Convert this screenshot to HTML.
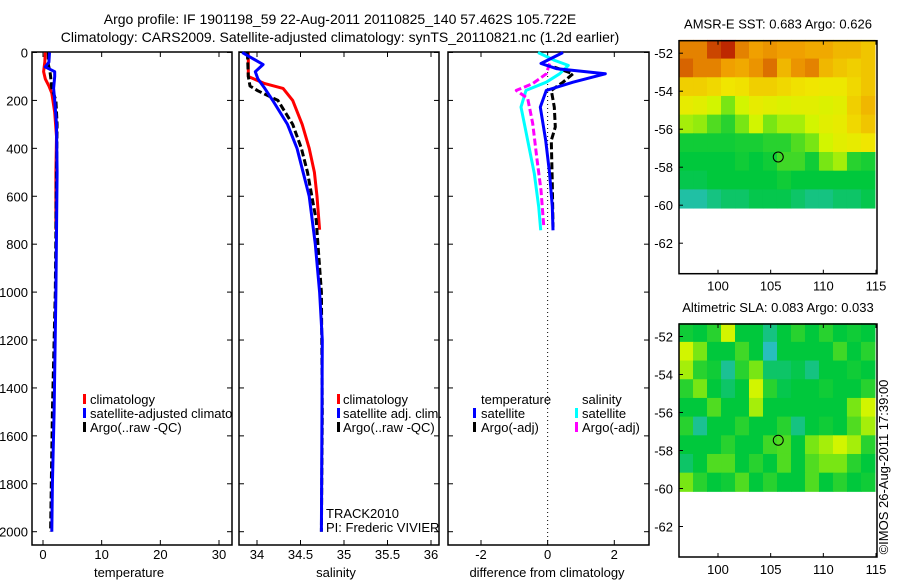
<!DOCTYPE html>
<html><head><meta charset="utf-8"><style>
html,body{margin:0;padding:0;background:#fff;}
svg{display:block;font-family:"Liberation Sans",sans-serif;}
text{font-size:13px;fill:#000;}
</style></head><body>
<svg id="fig" width="900" height="580" viewBox="0 0 900 580">
<defs><clipPath id="p1clip"><rect x="32" y="52" width="200" height="493"/></clipPath></defs>
<text x="340" y="24" text-anchor="middle" style="font-size:14px">Argo profile: IF 1901198_59 22-Aug-2011 20110825_140 57.462S 105.722E</text>
<text x="340" y="42" text-anchor="middle" style="font-size:14px">Climatology: CARS2009. Satellite-adjusted climatology: synTS_20110821.nc (1.2d earlier)</text>
<g id="plots"></g>
</svg>
<script>
// ---------- data ----------
const depthTicks = [0,200,400,600,800,1000,1200,1400,1600,1800,2000];
const tempTicks = [0,10,20,30];
const salTicks = [34,34.5,35,35.5,36];
const diffTicks = [-2,0,2];

const tempClimDepth = [0,40,80,110,140,170,250,350,500,740];
const tempClimVal   = [0.4,0.3,0.1,0.4,1.0,1.5,2.0,2.3,2.2,2.2];
const tempSatDepth  = [0,40,60,80,100,150,200,300,500,1000,1500,1800,2000];
const tempSatVal    = [1.1,1.0,0.4,2.0,2.0,1.8,2.0,2.3,2.4,2.2,1.9,1.6,1.5];
const tempArgoDepth = [0,50,80,100,150,200,300,500,1000,1500,2000];
const tempArgoVal   = [0.9,0.9,1.2,1.3,1.5,2.2,2.4,2.3,2.1,1.6,1.3];

const salClimDepth = [0,100,130,150,200,300,400,500,600,740];
const salClimVal   = [33.90,33.90,34.09,34.30,34.41,34.52,34.60,34.66,34.69,34.72];
const salSatDepth  = [0,50,80,110,150,200,300,400,500,600,800,1000,1200,2000];
const salSatVal    = [33.83,34.07,33.98,34.01,34.09,34.18,34.35,34.46,34.53,34.60,34.67,34.72,34.75,34.74];
const salArgoDepth = [0,100,140,160,200,300,400,500,700,1000,1500,2000];
const salArgoVal   = [33.89,33.90,33.92,34.01,34.24,34.41,34.51,34.58,34.68,34.74,34.75,34.74];

const dTempSatDepth  = [0,46,67,89,124,158,228,367,505,644,742];
const dTempSatVal    = [0.46,-0.2,0.26,1.73,0.76,-0.04,-0.22,-0.06,0.06,0.14,0.16];
const dTempArgoDepth = [61,89,124,158,228,311,367,547,730];
const dTempArgoVal   = [0.2,0.76,0.46,0.11,0.2,0.23,0.11,0.14,0.16];
const dSalSatDepth   = [0,33,54,89,124,158,228,367,505,644,742];
const dSalSatVal     = [-0.29,0.21,0.62,0.36,-0.04,-0.65,-0.8,-0.6,-0.4,-0.27,-0.21];
const dSalArgoDepth  = [46,89,130,158,192,296,436,575,721];
const dSalArgoVal    = [0.06,-0.04,-0.45,-0.94,-0.6,-0.45,-0.33,-0.2,-0.12];

const lonTicks = [100,105,110,115];
const latTicks = [-52,-54,-56,-58,-60,-62];
const sstGrid = [
 [0.85,0.85,0.95,1.0,0.85,0.8,0.82,0.8,0.8,0.78,0.78,0.75,0.75,0.72],
 [0.9,0.85,0.85,0.8,0.78,0.82,0.88,0.75,0.82,0.85,0.75,0.72,0.7,0.72],
 [0.7,0.7,0.68,0.65,0.66,0.7,0.7,0.68,0.66,0.65,0.64,0.64,0.68,0.72],
 [0.62,0.6,0.55,0.45,0.55,0.62,0.6,0.58,0.6,0.6,0.58,0.6,0.7,0.75],
 [0.5,0.48,0.4,0.35,0.45,0.55,0.45,0.5,0.5,0.55,0.6,0.62,0.68,0.72],
 [0.32,0.32,0.32,0.32,0.33,0.33,0.35,0.35,0.4,0.45,0.55,0.6,0.62,0.65],
 [0.3,0.3,0.3,0.3,0.32,0.3,0.32,0.38,0.38,0.32,0.45,0.5,0.35,0.33],
 [0.28,0.28,0.3,0.3,0.3,0.3,0.3,0.32,0.3,0.3,0.3,0.3,0.3,0.3],
 [0.18,0.18,0.22,0.25,0.25,0.28,0.28,0.28,0.25,0.22,0.22,0.25,0.25,0.28]];
const slaGrid = [
 [0.32,0.3,0.35,0.55,0.3,0.3,0.22,0.3,0.35,0.3,0.35,0.3,0.32,0.3],
 [0.55,0.45,0.3,0.3,0.38,0.3,0.15,0.3,0.3,0.3,0.3,0.38,0.3,0.35],
 [0.5,0.35,0.32,0.2,0.35,0.45,0.25,0.25,0.28,0.22,0.3,0.3,0.32,0.3],
 [0.35,0.45,0.3,0.25,0.3,0.55,0.35,0.28,0.3,0.3,0.32,0.3,0.3,0.35],
 [0.3,0.3,0.4,0.3,0.3,0.5,0.3,0.3,0.3,0.3,0.3,0.3,0.45,0.55],
 [0.35,0.2,0.3,0.3,0.35,0.3,0.3,0.35,0.22,0.3,0.32,0.3,0.4,0.5],
 [0.3,0.3,0.3,0.35,0.3,0.3,0.38,0.4,0.3,0.45,0.5,0.55,0.5,0.35],
 [0.25,0.3,0.4,0.4,0.3,0.35,0.3,0.4,0.3,0.4,0.45,0.45,0.35,0.3],
 [0.45,0.35,0.3,0.32,0.4,0.3,0.35,0.3,0.3,0.4,0.3,0.35,0.3,0.32]];
const argoLon = 105.72;
const argoLat = -57.46;

// ---------- drawing ----------
const NS = "http://www.w3.org/2000/svg";
const root = document.getElementById('plots');
function mk(tag, attrs, parent){
  const e = document.createElementNS(NS, tag);
  for (const k in attrs) e.setAttribute(k, attrs[k]);
  (parent||root).appendChild(e);
  return e;
}
const yTop = 52, yBot = 545;
function yD(d){ return 52.5 + d * 0.2396; }
function lin(d0,d1,p0,p1){ return v => p0 + (v-d0)*(p1-p0)/(d1-d0); }
const xT = lin(0,30,43,219);
const xS = lin(34,36,257,431);
const xD = lin(-2,2,481,614.3);

function panel(x0,x1,name){
  const r = mk('rect',{x:x0,y:yTop,width:x1-x0,height:yBot-yTop,fill:'none',stroke:'#000','stroke-width':1.5});
  
  
  depthTicks.forEach(d=>{
    const y=yD(d);
    const t1 = mk('line',{x1:x0,x2:x0+5,y1:y,y2:y,stroke:'#000'});
    
    
    const t2 = mk('line',{x1:x1-5,x2:x1,y1:y,y2:y,stroke:'#000'});
    
    
  });
}
function xticks(ticks, sc, fmt, title, cx){
  ticks.forEach(v=>{
    const x=sc(v);
    const a = mk('line',{x1:x,x2:x,y1:yBot,y2:yBot-5,stroke:'#000'});
    
    
    const b = mk('line',{x1:x,x2:x,y1:yTop,y2:yTop+5,stroke:'#000'});
    
    
    const t = mk('text',{x:x,y:559,'text-anchor':'middle'});
    t.textContent = fmt(v);
    
    
  });
  const tt = mk('text',{x:cx,y:577,'text-anchor':'middle'});
  tt.textContent = title;
  
  
}
function series(depths, vals, sc, color, dash, name){
  const pts = depths.map((d,i)=> sc(vals[i]).toFixed(1)+','+yD(d).toFixed(1)).join(' ');
  const attrs = {points:pts,fill:'none',stroke:color,'stroke-width':3,'stroke-linejoin':'round'};
  if (dash) attrs['stroke-dasharray']=dash;
  const p = mk('polyline',attrs);
  
  
}
function txt(x,y,s,name,anchor){
  const t = mk('text',{x:x,y:y,'text-anchor':anchor||'start'});
  t.textContent = s;
  
  
  return t;
}
function bar(x,y,color,name){
  const r = mk('rect',{x:x,y:y-5,width:3,height:10,fill:color});
  
  
}

// panel 1
panel(32,232,'temperature-panel');
depthTicks.forEach(d=>{ txt(28, yD(d)+5, String(d), 'depth-tick-label','end'); });
xticks(tempTicks, xT, v=>String(v), 'temperature', 129);
series(tempClimDepth,tempClimVal,xT,'#f00',null,'temp-climatology-line');
series(tempArgoDepth,tempArgoVal,xT,'#000','7,3','temp-argo-line');
series(tempSatDepth,tempSatVal,xT,'#00f',null,'temp-satellite-line');
bar(83,399,'#f00','legend-climatology-swatch'); txt(90,404,'climatology','legend-climatology');
bar(83,413,'#00f','legend-satellite-swatch');
const clipped = txt(90,418,'satellite-adjusted climatolo','legend-satellite-adjusted');
clipped.setAttribute('clip-path','url(#p1clip)');
bar(83,427,'#000','legend-argo-swatch'); txt(90,432,'Argo(..raw -QC)','legend-argo');

// panel 2
panel(239,439,'salinity-panel');
xticks(salTicks, xS, v=>String(v), 'salinity', 336);
series(salClimDepth,salClimVal,xS,'#f00',null,'sal-climatology-line');
series(salArgoDepth,salArgoVal,xS,'#000','7,3','sal-argo-line');
series(salSatDepth,salSatVal,xS,'#00f',null,'sal-satellite-line');
bar(337,399,'#f00','legend-climatology-swatch'); txt(343,404,'climatology','legend-climatology');
bar(337,413,'#00f','legend-satellite-swatch'); txt(343,418,'satellite adj. clim.','legend-satellite-adj');
bar(337,427,'#000','legend-argo-swatch'); txt(343,432,'Argo(..raw -QC)','legend-argo');
txt(326,518,'TRACK2010','track-label');
txt(326,532,'PI: Frederic VIVIER','pi-label');

// panel 3
panel(448,649,'difference-panel');
xticks(diffTicks, xD, v=>String(v), 'difference from climatology', 547);
const zl = mk('line',{x1:xD(0),x2:xD(0),y1:yTop,y2:yBot,stroke:'#000','stroke-dasharray':'1,3'});


series(dSalSatDepth,dSalSatVal,xD,'#0ff',null,'diff-sal-satellite-line');
series(dSalArgoDepth,dSalArgoVal,xD,'#f0f','7,3','diff-sal-argo-line');
series(dTempArgoDepth,dTempArgoVal,xD,'#000','7,3','diff-temp-argo-line');
series(dTempSatDepth,dTempSatVal,xD,'#00f',null,'diff-temp-satellite-line');
txt(481,404,'temperature','legend-temperature-header');
bar(473,413,'#00f','legend-temp-satellite-swatch'); txt(481,418,'satellite','legend-temp-satellite');
bar(473,427,'#000','legend-temp-argo-swatch'); txt(481,432,'Argo(-adj)','legend-temp-argo');
txt(582,404,'salinity','legend-salinity-header');
bar(575,413,'#0ff','legend-sal-satellite-swatch'); txt(582,418,'satellite','legend-sal-satellite');
bar(575,427,'#f0f','legend-sal-argo-swatch'); txt(582,432,'Argo(-adj)','legend-sal-argo');

// maps
const stops = [[0,[0,150,200]],[0.15,[40,190,190]],[0.3,[0,200,60]],[0.45,[120,230,20]],[0.55,[210,245,0]],[0.65,[240,230,0]],[0.8,[240,160,0]],[1,[190,40,0]]];
function cmap(v){
  for (let i=1;i<stops.length;i++){
    if (v<=stops[i][0]){
      const a=stops[i-1], b=stops[i], t=(v-a[0])/(b[0]-a[0]);
      const c=a[1].map((q,k)=>Math.round(q+(b[1][k]-q)*t));
      return 'rgb('+c.join(',')+')';
    }
  }
  return 'rgb(190,40,0)';
}
function map(y0, grid, title, name){
  const x0=679, x1=877, y1=y0+233;
  const xL = lin(100,115,718,876);
  const yL = lin(-52,-60, y0+12.5, y0+12.5+152);
  const lonMin=96.3, lonMax=114.9, latTop=-51.3, latBot=-60.15;
  const rows=grid.length, cols=grid[0].length;
  const dLon=(lonMax-lonMin)/cols, dLat=(latTop-latBot)/rows;
  grid.forEach((row,r)=>row.forEach((v,c)=>{
    const xa=xL(lonMin+c*dLon), xb=xL(lonMin+(c+1)*dLon);
    const ya=yL(latTop-r*dLat), yb=yL(latTop-(r+1)*dLat);
    const cell = mk('rect',{x:xa,y:ya,width:xb-xa+0.5,height:yb-ya+0.5,fill:cmap(v)});
    
    
  }));
  const f = mk('rect',{x:x0,y:y0,width:x1-x0,height:y1-y0,fill:'none',stroke:'#000','stroke-width':1.5});
  
  
  latTicks.forEach(l=>{
    const y=yL(l);
    const tk = mk('line',{x1:x0,x2:x0+4,y1:y,y2:y,stroke:'#000'});
    
    
    txt(673,y+5,String(l),'lat-tick-label','end');
  });
  lonTicks.forEach(l=>{
    const x=xL(l);
    const tk = mk('line',{x1:x,x2:x,y1:y1,y2:y1-4,stroke:'#000'});
    
    
    const tk2 = mk('line',{x1:x,x2:x,y1:y0,y2:y0+4,stroke:'#000'});
    
    
    txt(x,y1+17,String(l),'lon-tick-label','middle');
  });
  txt(778,y0-12,title,name+'-title','middle');
  const c = mk('circle',{cx:xL(argoLon),cy:yL(argoLat),r:5,fill:'none',stroke:'#000','stroke-width':1});
  
  
}
map(40.7, sstGrid, 'AMSR-E SST: 0.683 Argo: 0.626', 'sst-map');
map(324, slaGrid, 'Altimetric SLA: 0.083 Argo: 0.033', 'sla-map');
const cp = mk('text',{x:0,y:0,transform:'translate(888,467) rotate(-90)','text-anchor':'middle'});
cp.textContent = '©IMOS 26-Aug-2011 17:39:00';


</script>
</body></html>
